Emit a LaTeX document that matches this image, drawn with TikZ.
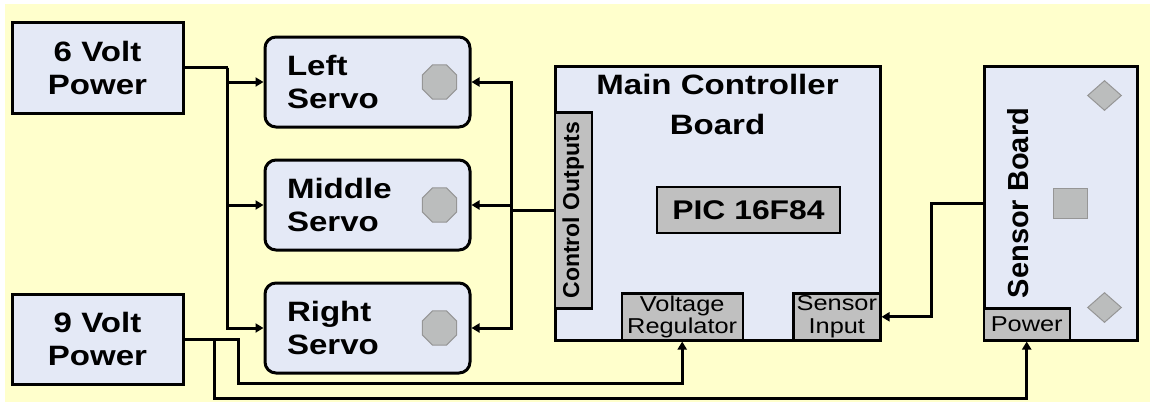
\documentclass[tikz,border=0pt]{standalone}
\usepackage{fontspec}
\setmainfont{Liberation Sans}[FakeStretch=1.18]
\newfontfamily\rotfont{Liberation Sans}
\usepackage{xcolor}
\usepackage{tikz}
\usetikzlibrary{shapes.geometric, arrows.meta, positioning}
\definecolor{bgyellow}{RGB}{255,255,204}
\definecolor{boardfill}{RGB}{228,233,246}
\definecolor{chipgray}{RGB}{192,192,192}
\definecolor{partgray}{RGB}{187,189,189}
\definecolor{partedge}{RGB}{150,150,150}
\tikzset{
  plainbox/.style={rectangle, draw, line width=3pt, fill=boardfill, align=center},
  powerbox/.style={plainbox, minimum width=171pt, minimum height=91pt,
    font=\bfseries\fontsize{28}{33}\selectfont},
  servobox/.style={plainbox, rounded corners=11pt, minimum width=205pt,
    minimum height=90pt, inner xsep=22pt, text width=161pt, align=left,
    font=\bfseries\fontsize{28}{33}\selectfont},
  boardbox/.style={plainbox, minimum height=274pt},
  chipbox/.style={rectangle, draw, line width=2.4pt, fill=chipgray, inner sep=0pt,
    align=center},
  smallchip/.style={chipbox, minimum height=47pt, font=\fontsize{21.5}{22.5}\selectfont},
  knob/.style={regular polygon, regular polygon sides=8, minimum size=37pt,
    inner sep=0pt, fill=partgray, draw=partedge, line width=1pt},
  pad/.style={diamond, minimum width=34pt, minimum height=30pt, inner sep=0pt,
    fill=partgray, draw=partedge, line width=1pt},
  wire/.style={line width=3pt},
  arrow/.style={wire, -{Triangle[length=8pt, width=9pt]}},
}

\begin{document}
\begin{tikzpicture}[x=1pt, y=-1pt]
  \useasboundingbox (0,0) rectangle (1150,402);
  \fill[bgyellow] (5,4) rectangle (1150,402);

  % power supplies
  \node[powerbox] (sixv) at (97.5,67.5) {6 Volt\\Power};
  \node[powerbox, minimum height=90pt] (ninev) at (97.5,339) {9 Volt\\Power};

  % servos
  \node[servobox] (lservo) at (367.5,82) {Left\\Servo};
  \node[servobox, below=30pt of lservo] (mservo) {Middle\\Servo};
  \node[servobox, below=30pt of mservo] (rservo) {Right\\Servo};
  \node[knob] (lknob) at ([xshift=-32pt]lservo.east) {};
  \node[knob] (mknob) at ([xshift=-32pt]mservo.east) {};
  \node[knob] (rknob) at ([xshift=-32pt]rservo.east) {};

  % main controller board
  \node[boardbox, minimum width=325pt] (mcb) at (717.5,203) {};
  \node[font=\bfseries\fontsize{28}{40}\selectfont, align=center,
    below=6pt of mcb.north] (mcbtitle) {Main Controller\\Board};
  \node[chipbox, minimum width=37pt, minimum height=196pt, anchor=south west,
    font=\rotfont\bfseries\fontsize{23}{26}\selectfont]
    (ctrlout) at ([yshift=32pt]mcb.south west) {\rotatebox{90}{Control Outputs}};
  \node[chipbox, minimum width=183pt, minimum height=46pt,
    font=\bfseries\fontsize{27}{33}\selectfont]
    (pic) at ([xshift=31pt, yshift=-7pt]mcb.center) {PIC 16F84};
  \node[smallchip, minimum width=121pt, anchor=south west]
    (vreg) at ([xshift=67pt]mcb.south west) {Voltage\\Regulator};
  \node[smallchip, minimum width=87pt, anchor=south east]
    (sinput) at (mcb.south east) {Sensor\\Input};

  % sensor board
  \node[boardbox, minimum width=153pt, right=101pt of mcb] (sb) {};
  \node[rotate=90, font=\rotfont\bfseries\fontsize{29}{33}\selectfont]
    (sbtitle) at ([xshift=36pt]sb.west) {Sensor Board};
  \node[rectangle, minimum width=34pt, minimum height=30pt, fill=partgray,
    draw=partedge, line width=1pt] (eye) at ([xshift=9.5pt]sb.center) {};
  \node[pad] (padtop) at ([xshift=-34pt, yshift=-31pt]sb.north east) {};
  \node[pad] (padbot) at ([xshift=-34pt, yshift=34pt]sb.south east) {};
  \node[chipbox, minimum width=86pt, minimum height=32pt, anchor=south west,
    font=\fontsize{21.5}{22.5}\selectfont] (sbpower) at (sb.south west) {Power};

  % 6 volt bus to the servos
  \draw[wire] (sixv.east) -- ++(43,0) coordinate (bus6);
  \draw[arrow] (bus6) |- (lservo.west);
  \draw[arrow] (bus6) |- (mservo.west);
  \draw[arrow] (bus6) |- (rservo.west);

  % control outputs to the servos
  \draw[wire] (ctrlout.west) -- ++(-42,0) coordinate (busc);
  \draw[arrow] (busc) |- (lservo.east);
  \draw[arrow] (busc) |- (mservo.east);
  \draw[arrow] (busc) |- (rservo.east);

  % 9 volt supply
  \draw[arrow] (ninev.east) -- ++(30,0) coordinate (split9) -- ++(24,0)
    -- ++(0,44) -| (vreg.south);
  \draw[arrow] (split9) -- ++(0,59) -| (sbpower.south);

  % sensor signal
  \draw[arrow] (sb.west) -- ++(-51,0) |- (sinput.east);
\end{tikzpicture}
\end{document}
